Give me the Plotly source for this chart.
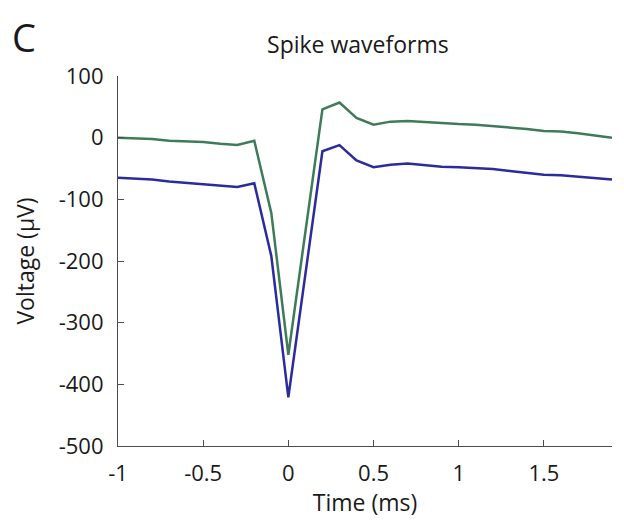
import plotly.graph_objects as go

# time samples (ms)
time_ms = [-1.0, -0.9, -0.8, -0.7, -0.6, -0.5, -0.4, -0.3, -0.2, -0.1,
           0.0, 0.1, 0.2, 0.3, 0.4, 0.5, 0.6, 0.7, 0.8, 0.9,
           1.0, 1.1, 1.2, 1.3, 1.4, 1.5, 1.6, 1.7, 1.8, 1.9]

# upper (green) waveform, uV
green_uv = [0, -1, -2, -5, -6, -7, -10, -12, -5, -122,
            -352, -152, 46, 57, 32, 21, 26, 27, 25, 23,
            22, 21, 19, 17, 14, 11, 10, 7, 4, 0]

# lower (blue) waveform, uV
blue_uv = [-65, -66, -68, -71, -73, -75, -78, -80, -74, -192,
           -421, -222, -22, -12, -37, -48, -44, -42, -45, -47,
           -48, -49, -51, -54, -57, -60, -61, -63, -65, -68]

x_ticks = [-1, -0.5, 0, 0.5, 1, 1.5]
y_ticks = [-500, -400, -300, -200, -100, 0, 100]

FONT = "Open Sans, Lato, sans-serif"
AXIS_COLOR = "#4d4d4d"
TEXT = "#1a1a1a"

fig = go.Figure()
fig.add_trace(go.Scatter(x=time_ms, y=green_uv, mode="lines",
                         line=dict(color="#3f7b58", width=2.5), showlegend=False))
fig.add_trace(go.Scatter(x=time_ms, y=blue_uv, mode="lines",
                         line=dict(color="#2b2b9c", width=2.5), showlegend=False))

axis_common = dict(
    showline=True, linecolor=AXIS_COLOR, linewidth=1.2,
    ticks="inside", ticklen=6, tickcolor=AXIS_COLOR, tickwidth=1.2,
    showgrid=False, zeroline=False, automargin=False,
    tickfont=dict(family=FONT, size=22, color=TEXT),
)

# page body has an 8px margin, so the figure is a bit smaller than the window
fig.update_layout(
    width=616, height=515,
    paper_bgcolor="white", plot_bgcolor="white",
    margin=dict(l=110, r=12, t=68, b=77),
    font=dict(family=FONT, color=TEXT),
    title=dict(text="Spike waveforms", x=0.568, xanchor="center",
               y=0.928, yanchor="middle", automargin=False,
               font=dict(family=FONT, size=23, color=TEXT)),
    xaxis=dict(range=[-1, 1.9], tickvals=x_ticks,
               ticktext=[f"{v:g}" for v in x_ticks], ticklabelstandoff=7,
               title=dict(text="Time (ms)", standoff=5,
                          font=dict(family=FONT, size=23, color=TEXT)),
               **axis_common),
    yaxis=dict(range=[-500, 100], tickvals=y_ticks,
               ticktext=[f"{v:g}" for v in y_ticks], ticklabelstandoff=9,
               title=dict(text="Voltage (µV)", standoff=17,
                          font=dict(family=FONT, size=23, color=TEXT)),
               **axis_common),
    annotations=[dict(text="C", xref="paper", yref="paper", x=-0.219, y=1.18,
                      xanchor="left", yanchor="top", showarrow=False,
                      font=dict(family=FONT, size=38, color=TEXT))],
)

fig.write_html("out.html")
